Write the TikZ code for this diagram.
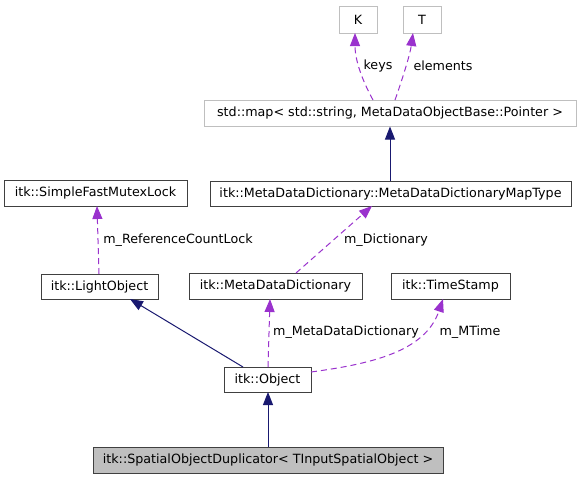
\documentclass[tikz,border=0pt]{standalone}
\usepackage{fontspec}
\setmainfont{DejaVu Sans}
\usetikzlibrary{arrows.meta}
\definecolor{navy}{HTML}{191970}
\definecolor{purp}{HTML}{9A32CD}
\definecolor{lgray}{HTML}{BFBFBF}
\definecolor{dgray}{HTML}{404040}
\tikzset{
  box/.style={draw=dgray, line width=1pt, inner sep=0pt, font=\fontsize{12.7}{14}\selectfont, fill=white},
  gbox/.style={box, draw=lgray},
  hbox/.style={box, fill=lgray},
  inh/.style={draw=navy, line width=1pt, -{Triangle[length=13pt,width=10pt]}},
  use/.style={draw=purp, line width=1pt, dash pattern=on 6pt off 4pt, -{Triangle[length=13pt,width=10pt]}},
  lbl/.style={inner sep=0pt, font=\fontsize{12.7}{14}\selectfont}
}
\newcommand{\bx}[7]{% style, name, x1, y1, x2, y2, text
  \node[#1, minimum width={(#5-#3)*1pt}, minimum height={(#6-#4)*1pt}] (#2) at ({(#3+#5)/2},{(#4+#6)/2}) {#7};}
\begin{document}
\begin{tikzpicture}[x=1pt,y=-1pt]
\useasboundingbox (0,0) rectangle (581,480);
\bx{gbox}{K}{339}{6}{377}{33}{K}
\bx{gbox}{T}{403}{6}{441}{33}{T}
\bx{gbox}{map}{204}{100}{576}{126}{std::map< std::string, MetaDataObjectBase::Pointer >}
\bx{box}{mt}{210}{181}{571}{206}{itk::MetaDataDictionary::MetaDataDictionaryMapType}
\bx{box}{sfml}{4}{180}{187}{206}{itk::SimpleFastMutexLock}
\bx{box}{lo}{41}{274}{158}{299}{itk::LightObject}
\bx{box}{mdd}{189}{273}{362}{299}{itk::MetaDataDictionary}
\bx{box}{ts}{391}{273}{510}{299}{itk::TimeStamp}
\bx{box}{obj}{224}{367}{311}{392}{itk::Object}
\bx{hbox}{sod}{93}{447}{443}{473}{itk::SpatialObjectDuplicator< TInputSpatialObject >}
\coordinate (mapk) at (373,100);
\coordinate (mapt) at (395,100);
\coordinate (kb) at (355,33);
\coordinate (tb) at (413,33);
\draw[use] (mapk) .. controls (362,80) and (355,60) .. (kb);
\draw[use] (mapt) .. controls (402,80) and (410,55) .. (tb);
\draw[inh] (mt.north -| map.south) -- (map.south);
\coordinate (mddt) at (296,273);
\coordinate (mtb) at (372,206);
\draw[use] (mddt) -- (mtb);
\coordinate (lot) at (99,274);
\coordinate (sfb) at (97,206);
\draw[use] (lot) -- (sfb);
\coordinate (objl) at (243,367);
\coordinate (lob) at (130,299);
\draw[inh] (objl) -- (lob);
\coordinate (objm) at (268,367);
\coordinate (mddb) at (270,299);
\draw[use] (objm) -- (mddb);
\coordinate (objr) at (311,372);
\coordinate (tsb) at (443,299);
\draw[use] (objr) .. controls (370,364) and (425,352) .. (tsb);
\draw[inh] (268,447) -- (268,392);
\node[lbl] (l1) at (378,66) {keys};
\node[lbl] (l2) at (443,66) {elements};
\node[lbl] (l3) at (386,240) {m\_Dictionary};
\node[lbl] (l4) at (178,240) {m\_ReferenceCountLock};
\node[lbl] (l5) at (346,332) {m\_MetaDataDictionary};
\node[lbl] (l6) at (470,332) {m\_MTime};
\end{tikzpicture}
\end{document}
